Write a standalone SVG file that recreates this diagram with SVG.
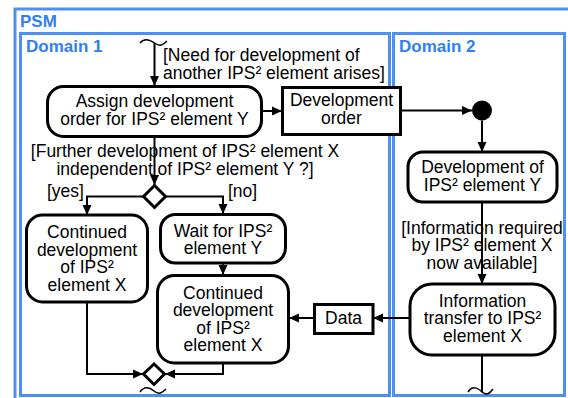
<svg xmlns="http://www.w3.org/2000/svg" width="568" height="398" viewBox="0 0 568 398">
<defs>
<style>
.frame{fill:none;stroke:#4f8ff0;stroke-width:3}
.ftitle{font-family:"Liberation Sans",Arial,sans-serif;font-weight:bold;font-size:17px;fill:#2f80f2}
.node{fill:#fff;stroke:#000;stroke-width:3}
.t{font-family:"Liberation Sans",Arial,sans-serif;font-size:17.5px;fill:#000;text-anchor:middle}
.tl{font-family:"Liberation Sans",Arial,sans-serif;font-size:17.5px;fill:#000}
.c{fill:none;stroke:#000;stroke-width:2}
.tilde{fill:none;stroke:#000;stroke-width:1.5}
</style>
<marker id="ah" viewBox="0 0 10 10" refX="10" refY="5" markerWidth="10" markerHeight="10" markerUnits="userSpaceOnUse" orient="auto">
<path d="M0,0.5 L10,5 L0,9.5 Z" fill="#000"/>
</marker>
</defs>
<rect width="568" height="398" fill="#fff"/>

<g id="psm">
<rect class="frame" x="15" y="9" width="580" height="420"/>
<text class="ftitle" x="20" y="27">PSM</text>
</g>
<g id="domain1">
<rect class="frame" x="20.5" y="33.5" width="369" height="362"/>
<text class="ftitle" x="26" y="52">Domain 1</text>
</g>
<g id="domain2">
<rect class="frame" x="393.5" y="33.5" width="171" height="362"/>
<text class="ftitle" x="399" y="52">Domain 2</text>
</g>

<g id="connectors">
<path class="tilde" d="M140,43 C144,38 149,39 154.5,43 C160,47 163,45 167,41"/>
<path class="c" d="M154.5,43 V86" marker-end="url(#ah)"/>
<path class="c" d="M262,111 H282" marker-end="url(#ah)"/>
<path class="c" d="M401,110.5 H472" marker-end="url(#ah)"/>
<path class="c" d="M482,120.5 V152" marker-end="url(#ah)"/>
<path class="c" d="M154.5,136 V185" marker-end="url(#ah)"/>
<path class="c" d="M143.5,196.5 H87 V215" marker-end="url(#ah)"/>
<path class="c" d="M165.5,196.5 H223 V214" marker-end="url(#ah)"/>
<path class="c" d="M223,263 V275" marker-end="url(#ah)"/>
<path class="c" d="M482,202 V284" marker-end="url(#ah)"/>
<path class="c" d="M410,318 H373" marker-end="url(#ah)"/>
<path class="c" d="M314,318 H289" marker-end="url(#ah)"/>
<path class="c" d="M87,302 V374 H143" marker-end="url(#ah)"/>
<path class="c" d="M223,363 V374 H165" marker-end="url(#ah)"/>
<path class="c" d="M482,355 V392"/>
<path class="tilde" d="M468,392 C472,386 477,387 482,392 C487,396 490,393 493,389"/>
<path class="tilde" d="M140,392 C144,386 149,387 154,391 C159,395 162,393 166,389"/>
</g>

<g id="assign">
<rect class="node" x="47.5" y="86.5" width="214" height="50" rx="16"/>
<text class="t" x="154.5" y="107">Assign development</text>
<text class="t" x="154.5" y="125">order for IPS² element Y</text>
</g>
<g id="label-need">
<text class="tl" x="163" y="61">[Need for development of</text>
<text class="tl" x="163" y="79">another IPS² element arises]</text>
</g>
<g id="devorder">
<rect class="node" x="282.5" y="87.5" width="118" height="47"/>
<text class="t" x="341.5" y="106">Development</text>
<text class="t" x="341.5" y="124">order</text>
</g>
<g id="start">
<circle cx="482" cy="110.5" r="10" fill="#000"/>
</g>
<g id="devY">
<rect class="node" x="408" y="152" width="149" height="50" rx="15"/>
<text class="t" x="482.5" y="172.5">Development of</text>
<text class="t" x="482.5" y="190.5">IPS² element Y</text>
</g>
<g id="label-further">
<text class="t" x="185" y="157">[Further development of IPS² element X</text>
<text class="t" x="185" y="175">independent of IPS² element Y ?]</text>
</g>
<g id="decision">
<path class="node" d="M154.5,185.5 L165.5,196.5 L154.5,207.5 L143.5,196.5 Z"/>
</g>
<g id="label-yes"><text class="tl" x="47" y="197">[yes]</text></g>
<g id="label-no"><text class="tl" x="228" y="197">[no]</text></g>
<g id="contLeft">
<rect class="node" x="26.5" y="215" width="121" height="87" rx="16"/>
<text class="t" x="87" y="238">Continued</text>
<text class="t" x="87" y="255.7">development</text>
<text class="t" x="87" y="273.3">of IPS²</text>
<text class="t" x="87" y="291">element X</text>
</g>
<g id="wait">
<rect class="node" x="160.5" y="214.5" width="125" height="48.5" rx="15"/>
<text class="t" x="223" y="236.5">Wait for IPS²</text>
<text class="t" x="223" y="254">element Y</text>
</g>
<g id="contRight">
<rect class="node" x="157.5" y="275.5" width="131" height="87.5" rx="17"/>
<text class="t" x="223" y="298.5">Continued</text>
<text class="t" x="223" y="316">development</text>
<text class="t" x="223" y="333.5">of IPS²</text>
<text class="t" x="223" y="351">element X</text>
</g>
<g id="label-info">
<text class="t" x="482" y="233.5">[Information required</text>
<text class="t" x="482" y="251">by IPS² element X</text>
<text class="t" x="482" y="268.5">now available]</text>
</g>
<g id="infoTransfer">
<rect class="node" x="410" y="284" width="145" height="71" rx="22"/>
<text class="t" x="482.5" y="306.5">Information</text>
<text class="t" x="482.5" y="324">transfer to IPS²</text>
<text class="t" x="482.5" y="341.5">element X</text>
</g>
<g id="data">
<rect class="node" x="314.5" y="304.5" width="58.5" height="29"/>
<text class="t" x="343.5" y="324">Data</text>
</g>
<g id="merge">
<path class="node" d="M154,364 L164.5,374 L154,384.5 L143.5,374 Z"/>
</g>
</svg>
